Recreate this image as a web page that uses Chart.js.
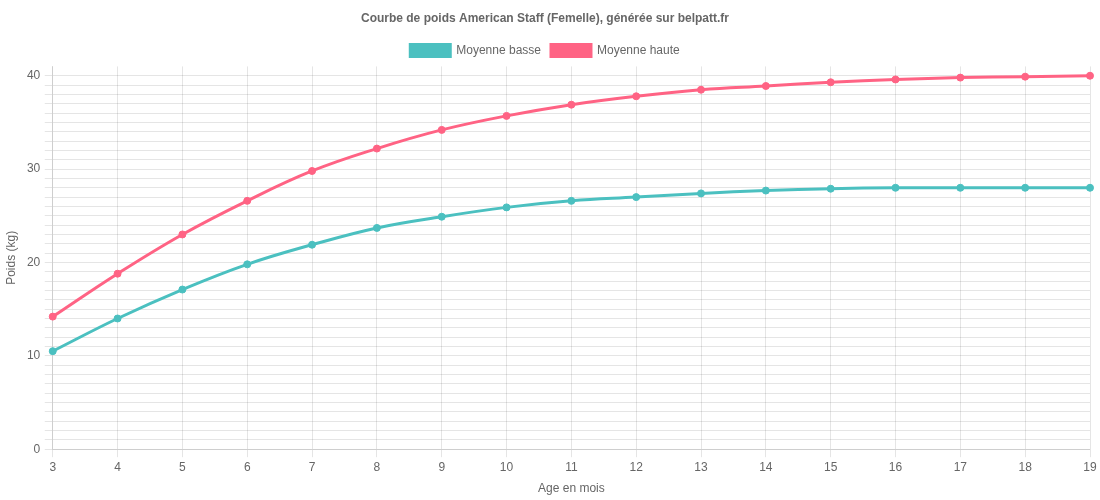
<!DOCTYPE html>
<html>
<head>
<meta charset="utf-8">
<script src="https://cdn.jsdelivr.net/npm/chart.js@4/dist/chart.umd.min.js"></script>
<style>
    body { margin: 0; background: #fff; }
    #wrap { width: 1100px; height: 500px; position: relative; }
</style>
</head>
<body>
<div id="wrap"><canvas id="myChart"></canvas></div>
<script>
const ages = ['3', '4', '5', '6', '7', '8', '9', '10', '11', '12', '13', '14', '15', '16', '17', '18', '19'];
const moyenneBasse = [10.5, 14, 17.1, 19.8, 21.9, 23.7, 24.9, 25.9, 26.6, 27, 27.4, 27.7, 27.9, 28, 28, 28, 28];
const moyenneHaute = [14.2, 18.8, 23, 26.6, 29.8, 32.2, 34.2, 35.7, 36.9, 37.8, 38.5, 38.9, 39.3, 39.6, 39.8, 39.9, 40];

const TEAL = 'rgb(75, 192, 192)';
const PINK = 'rgb(255, 99, 132)';
const Y_TOP = 41;   // empty headroom above the last labelled tick


function drawChart() {
    Chart.defaults.font.family = '"Liberation Sans", Arial, Helvetica, sans-serif';
    Chart.defaults.font.size = 12;
    Chart.defaults.color = '#666';

    const ctx = document.getElementById('myChart').getContext('2d');
    new Chart(ctx, {
        type: 'line',
        data: {
            labels: ages,
            datasets: [{
                label: 'Moyenne basse',
                data: moyenneBasse,
                borderColor: TEAL,
                backgroundColor: TEAL,
                borderWidth: 3,
                pointRadius: 3.5,
                pointBorderWidth: 1,
                tension: 0.4,
                fill: false
            }, {
                label: 'Moyenne haute',
                data: moyenneHaute,
                borderColor: PINK,
                backgroundColor: PINK,
                borderWidth: 3,
                pointRadius: 3.5,
                pointBorderWidth: 1,
                tension: 0.4,
                fill: false
            }]
        },
        options: {
            responsive: true,
            maintainAspectRatio: false,
            animation: false,
            layout: { padding: { left: 0, right: 10, top: 0, bottom: 0 } },
            plugins: {
                title: {
                    display: true,
                    text: 'Courbe de poids American Staff (Femelle), générée sur belpatt.fr',
                    font: { weight: 'bold', size: 12 },
                    padding: { top: 11, bottom: 9 }
                },
                legend: {
                    labels: { boxWidth: 40, boxHeight: 12, padding: 10 }
                }
            },
            scales: {
                x: {
                    title: { display: true, text: 'Age en mois' },
                    grid: { color: 'rgba(0,0,0,0.1)' }
                },
                y: {
                    min: 0,
                    max: Y_TOP,
                    title: { display: true, text: 'Poids (kg)' },
                    ticks: {
                        stepSize: 1,
                        autoSkip: false,
                        padding: 4.5,
                        callback: function (value) {
                            return value % 10 === 0 ? value : '';
                        }
                    },
                    grid: {
                        color: function (c) {
                            return c.tick && c.tick.value === Y_TOP ? 'rgba(0,0,0,0)' : 'rgba(0,0,0,0.1)';
                        }
                    }
                }
            }
        }
    });
}

drawChart();
</script>
</body>
</html>
